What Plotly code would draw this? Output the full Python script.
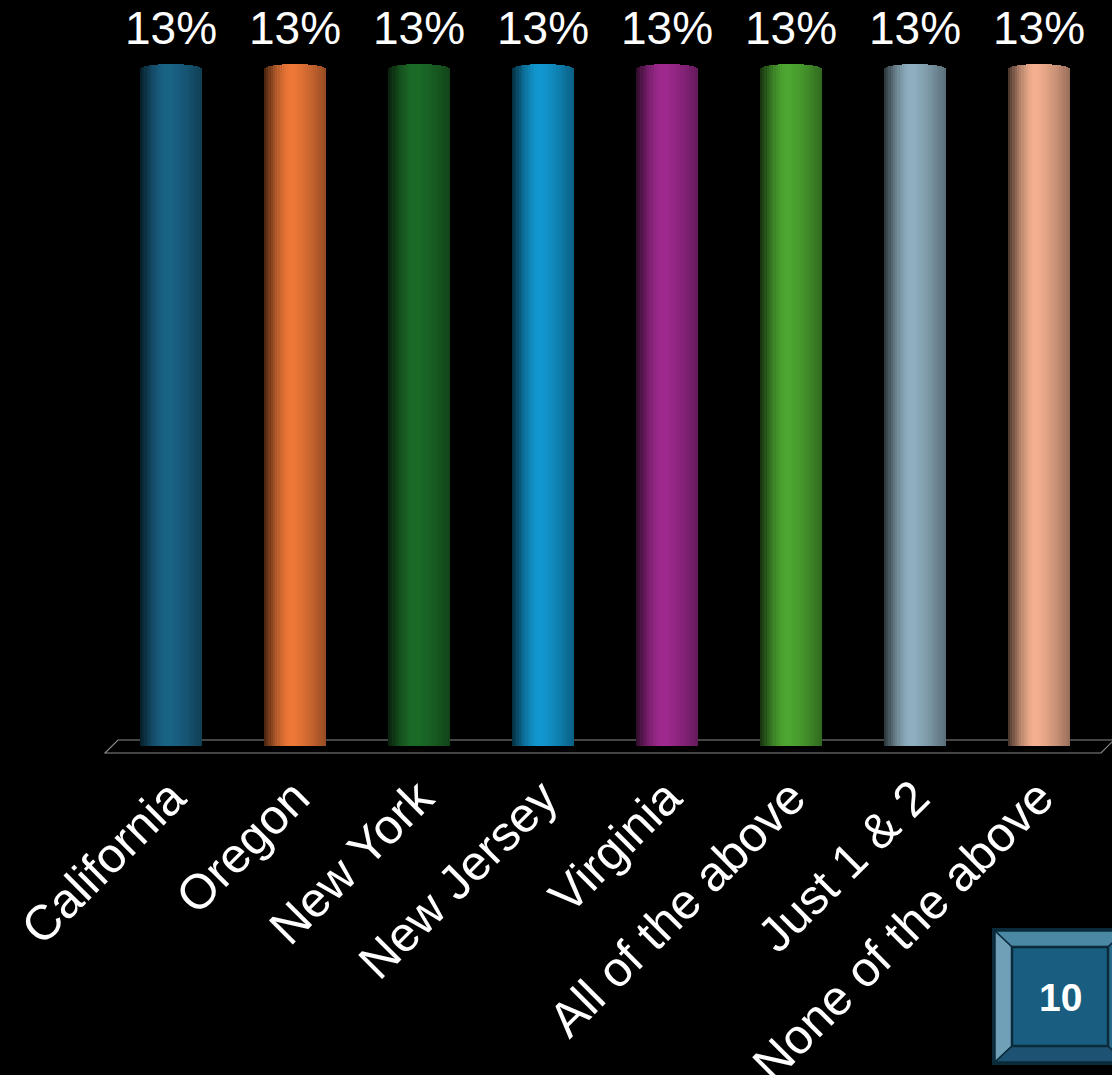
import numpy as np
import plotly.graph_objects as go

# ---- data ----
categories = ["California", "Oregon", "New York", "New Jersey", "Virginia",
              "All of the above", "Just 1 & 2", "None of the above"]
values = [13, 13, 13, 13, 13, 13, 13, 13]
value_labels = ["13%", "13%", "13%", "13%", "13%", "13%", "13%", "13%"]
bar_colors = ["#1a6488", "#ee7838", "#1c6c28", "#1298d0",
              "#a02a90", "#4ea832", "#90b0c0", "#f4b090"]
counter_text = "10"

# ---- layout geometry ----
W, H = 1112, 1075
ML, MR, MT, MB = 109, 11, 17, 329
PW, PH = W - ML - MR, H - MT - MB
YMAX = 14
PX_PER_UNIT = PH / YMAX

def px(x):
    return (x - ML) / PW

def py(y):
    return (H - MB - y) / PH

def hex_to_rgb(h):
    h = h.lstrip("#")
    return [int(h[i:i + 2], 16) for i in (0, 2, 4)]

def shade(h, f):
    r, g, b = hex_to_rgb(h)
    return "rgb(%d,%d,%d)" % (min(255, r * f), min(255, g * f), min(255, b * f))

def profile(t):
    # cylinder lighting: dark left rim, highlight left of centre, softer right side
    if t < 0.45:
        return 0.28 + 0.72 * np.sin(np.pi / 2 * t / 0.45)
    return 1.0 - 0.38 * ((t - 0.45) / 0.55) ** 1.4

BAR_W = 0.5
N = 28
cap_top = 5 / PX_PER_UNIT
cap_bot = 6 / PX_PER_UNIT

fig = go.Figure()
strip_w = BAR_W / N
for k in range(N):
    t = (k + 0.5) / N
    f = profile(t)
    cols = [shade(c, f) for c in bar_colors]
    off = -BAR_W / 2 + k * strip_w
    ell = np.sqrt(max(0.0, 1 - (2 * t - 1) ** 2))
    common = dict(x=categories, width=[strip_w * 1.08] * len(categories),
                  offset=[off] * len(categories),
                  marker=dict(color=cols, line=dict(width=0)),
                  hoverinfo="skip", showlegend=False)
    # body
    fig.add_trace(go.Bar(y=values, base=[0] * len(values), **common))
    # rounded top
    fig.add_trace(go.Bar(y=[cap_top * ell] * len(values), base=values, **common))
    # rounded bottom
    fig.add_trace(go.Bar(y=[cap_bot * ell] * len(values),
                         base=[-cap_bot * ell] * len(values), **common))

annotations = []
for c, v, lab in zip(categories, values, value_labels):
    annotations.append(dict(x=c, y=v, text=lab, showarrow=False, xanchor="center",
                            yanchor="bottom", yshift=13,
                            font=dict(family="Liberation Sans, Arial", size=46, color="white")))

# counter box text
annotations.append(dict(xref="paper", yref="paper", x=px(1060), y=py(997),
                        text="<b>%s</b>" % counter_text, showarrow=False,
                        xanchor="center", yanchor="middle",
                        font=dict(family="Liberation Sans, Arial", size=39, color="white")))

shapes = []
# floor parallelogram
floor = "M %f %f L %f %f L %f %f L %f %f Z" % (px(105), py(753), px(118), py(740),
                                              px(1114), py(740), px(1101), py(753))
shapes.append(dict(type="path", xref="paper", yref="paper", path=floor,
                   line=dict(color="#8a8a8a", width=1.2), fillcolor="rgba(0,0,0,0)",
                   layer="below"))

# counter box (bevelled)
ox0, oy0, ox1, oy1 = 992, 928, 1128, 1065
ix0, iy0, ix1, iy1 = 1012, 947, 1108, 1046

def poly(pts):
    s = "M " + " L ".join("%f %f" % (px(a), py(b)) for a, b in pts) + " Z"
    return s

border = "#0b2b3b"
shapes.append(dict(type="path", xref="paper", yref="paper",
                   path=poly([(ox0, oy0), (ox1, oy0), (ox1, oy1), (ox0, oy1)]),
                   fillcolor=border, line=dict(width=0)))
bevels = [
    ([(ox0 + 3, oy0 + 3), (ox1 - 3, oy0 + 3), (ix1, iy0), (ix0, iy0)], "#4a88a4"),
    ([(ox0 + 3, oy0 + 3), (ix0, iy0), (ix0, iy1), (ox0 + 3, oy1 - 3)], "#6fa0b8"),
    ([(ox0 + 3, oy1 - 3), (ix0, iy1), (ix1, iy1), (ox1 - 3, oy1 - 3)], "#1d5272"),
    ([(ox1 - 3, oy0 + 3), (ox1 - 3, oy1 - 3), (ix1, iy1), (ix1, iy0)], "#2a6a8a"),
]
for pts, col in bevels:
    shapes.append(dict(type="path", xref="paper", yref="paper", path=poly(pts),
                       fillcolor=col, line=dict(color=border, width=1.5)))
shapes.append(dict(type="path", xref="paper", yref="paper",
                   path=poly([(ix0, iy0), (ix1, iy0), (ix1, iy1), (ix0, iy1)]),
                   fillcolor="#195e80", line=dict(color=border, width=2.5)))

fig.update_layout(
    width=W, height=H,
    margin=dict(l=ML, r=MR, t=MT, b=MB, autoexpand=False),
    paper_bgcolor="black", plot_bgcolor="black",
    barmode="overlay", bargap=0,
    showlegend=False,
    annotations=annotations, shapes=shapes,
    xaxis=dict(type="category", range=[-0.5, len(categories) - 0.5],
               tickangle=-45, showgrid=False, zeroline=False, showline=False,
               ticks="", ticklabelstandoff=12,
               tickfont=dict(family="Liberation Sans, Arial", size=49, color="white"),
               fixedrange=True),
    yaxis=dict(range=[0, YMAX], showgrid=False, zeroline=False, showline=False,
               showticklabels=False, ticks="", fixedrange=True),
)

fig.write_html("out.html", config={"displayModeBar": False},
               post_script="document.body.style.margin='0';document.body.style.background='black';document.body.style.overflow='hidden';")
